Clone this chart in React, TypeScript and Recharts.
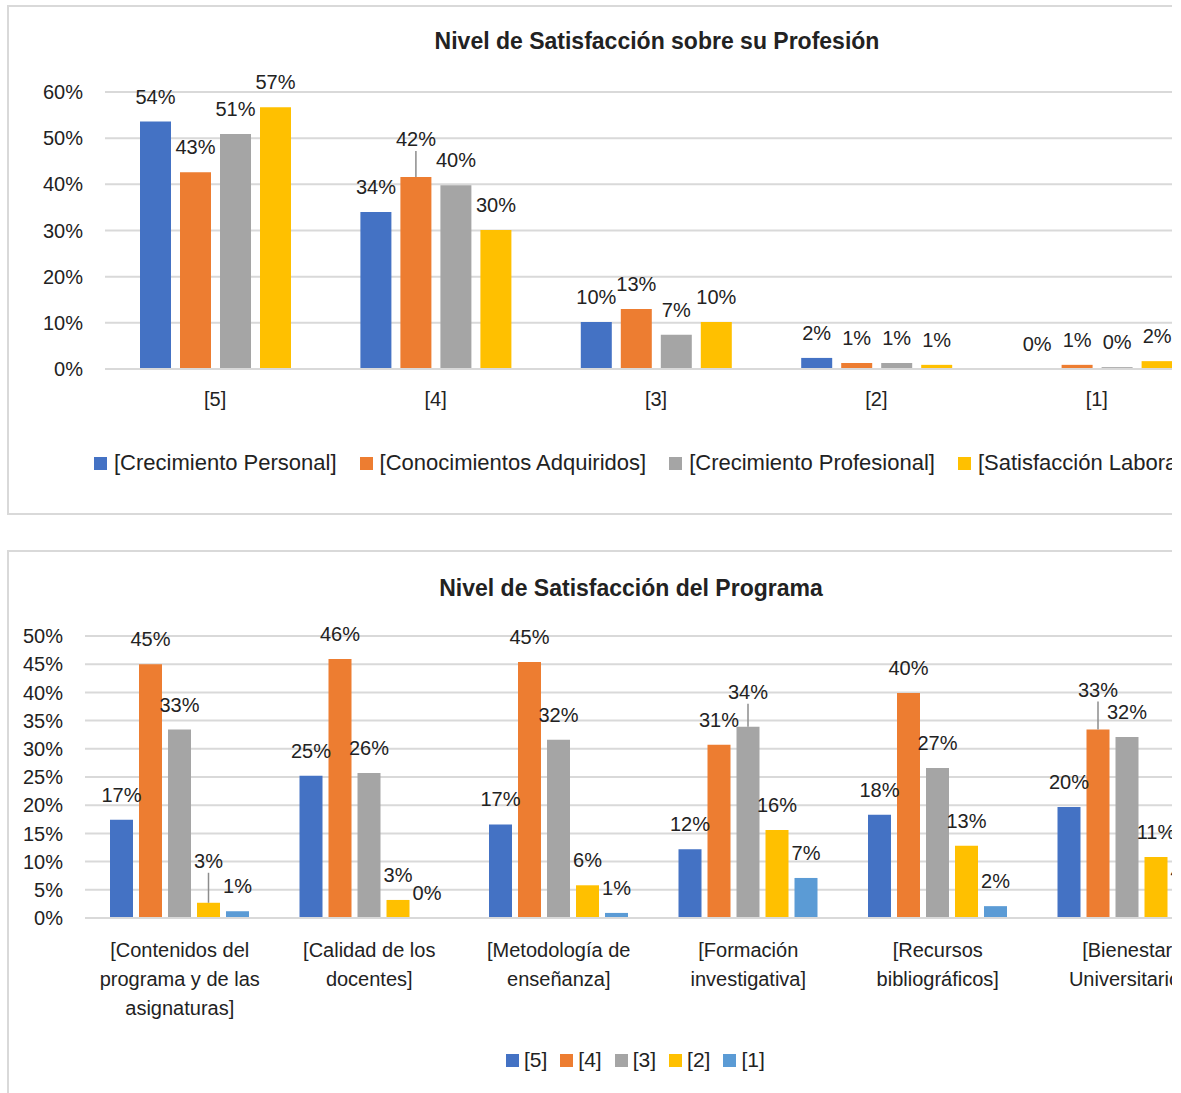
import React from "react"
import {
  BarChart,
  Bar,
  XAxis,
  YAxis,
  CartesianGrid,
  Legend,
  LabelList
} from "recharts"

// ---- chart 1: Nivel de Satisfacción sobre su Profesión ----
const PROF_CATEGORIES = ["[5]", "[4]", "[3]", "[2]", "[1]"]
const CRECIMIENTO_PERSONAL = [53.6, 34.0, 10.2, 2.4, 0]
const CONOCIMIENTOS_ADQUIRIDOS = [42.6, 41.6, 13.0, 1.3, 0.9]
const CRECIMIENTO_PROFESIONAL = [50.9, 39.8, 7.4, 1.3, 0.4]
const SATISFACCION_LABORAL = [56.7, 30.1, 10.2, 0.9, 1.7]
const PROF_TICKS = [0, 10, 20, 30, 40, 50, 60]

// ---- chart 2: Nivel de Satisfacción del Programa ----
const PROG_CATEGORIES = [
  "[Contenidos del\nprograma y de las\nasignaturas]",
  "[Calidad de los\ndocentes]",
  "[Metodología de\nenseñanza]",
  "[Formación\ninvestigativa]",
  "[Recursos\nbibliográficos]",
  "[Bienestar\nUniversitario]"
]
const NIVEL_5 = [17.4, 25.2, 16.6, 12.2, 18.3, 19.7]
const NIVEL_4 = [45.0, 45.9, 45.4, 30.7, 39.9, 33.4]
const NIVEL_3 = [33.4, 25.7, 31.6, 33.9, 26.6, 32.1]
const NIVEL_2 = [2.7, 3.2, 5.8, 15.6, 12.8, 10.8]
const NIVEL_1 = [1.2, 0, 0.9, 7.1, 2.1, 3.9]
const PROG_TICKS = [0, 5, 10, 15, 20, 25, 30, 35, 40, 45, 50]

const FONT = "'Liberation Sans Narrow', 'Arial Narrow', 'Liberation Sans', Arial, sans-serif"
const TEXT = "#222"
const GRID = "#d9d9d9"

const PROF_KEYS = ["personal", "conocimientos", "profesional", "laboral"]
const PROG_KEYS = ["n5", "n4", "n3", "n2", "n1"]

const profData = PROF_CATEGORIES.map((name, i) => ({
  name,
  personal: CRECIMIENTO_PERSONAL[i],
  conocimientos: CONOCIMIENTOS_ADQUIRIDOS[i],
  profesional: CRECIMIENTO_PROFESIONAL[i],
  laboral: SATISFACCION_LABORAL[i]
}))

const progData = PROG_CATEGORIES.map((name, i) => ({
  name,
  n5: NIVEL_5[i],
  n4: NIVEL_4[i],
  n3: NIVEL_3[i],
  n2: NIVEL_2[i],
  n1: NIVEL_1[i]
}))

// labels that Excel pushed up and joined with a leader line
const LEADERS: Record<string, number> = {
  "conocimientos-1": 13,
  "n2-0": 17,
  "n3-3": 10,
  "n4-5": 15
}

const barLabel = (key: string) => (props: any) => {
  const { x, y, width, value, index } = props
  const extra = LEADERS[`${key}-${index}`] ?? 0
  const cx = Number(x) + Number(width) / 2
  const base = Number(y) - 18 - extra
  return (
    <g>
      <text x={cx} y={base} textAnchor="middle" fill={TEXT} fontSize={20} fontFamily={FONT}>
        {Math.round(Number(value))}%
      </text>
      {extra > 0 && (
        <line x1={cx} x2={cx} y1={base + 5} y2={Number(y)} stroke="#8c8c8c" strokeWidth={1.5} />
      )}
    </g>
  )
}

const CategoryTick = (props: any) => {
  const { x, y, payload } = props
  const lines = String(payload.value).split("\n")
  return (
    <text x={x} y={y} textAnchor="middle" fill={TEXT} fontSize={20} fontFamily={FONT}>
      {lines.map((l, i) => (
        <tspan key={i} x={x} dy={i === 0 ? "0.71em" : 29}>
          {l}
        </tspan>
      ))}
    </text>
  )
}

const legendContent = (order: string[], marker: number, textGap: number, itemGap: number, fontSize: number) =>
  (props: any) => {
    const items = [...(props.payload || [])].sort(
      (a: any, b: any) => order.indexOf(String(a.dataKey)) - order.indexOf(String(b.dataKey))
    )
    return (
      <div style={{ display: "flex", alignItems: "center", whiteSpace: "nowrap", fontFamily: FONT, fontSize, color: TEXT }}>
        {items.map((e: any, i: number) => (
          <span key={i} style={{ display: "inline-flex", alignItems: "center", marginRight: itemGap }}>
            <span style={{ width: marker, height: marker, background: e.color, marginRight: textGap, display: "inline-block" }} />
            <span>{e.value}</span>
          </span>
        ))}
      </div>
    )
  }

const frame: React.CSSProperties = {
  position: "absolute",
  left: 7,
  width: 1165,
  boxSizing: "border-box",
  borderTop: `2px solid ${GRID}`,
  borderLeft: `2px solid ${GRID}`,
  overflow: "hidden",
  background: "#fff"
}

const titleStyle: React.CSSProperties = {
  position: "absolute",
  left: 0,
  textAlign: "center",
  fontFamily: FONT,
  fontWeight: "bold",
  fontSize: 23,
  color: TEXT,
  zIndex: 2
}

function ProfesionChart() {
  return (
    <div style={{ ...frame, top: 5, height: 510, borderBottom: `2px solid ${GRID}` }}>
      <div style={{ ...titleStyle, top: 21, width: 1296 }}>
        Nivel de Satisfacción sobre su Profesión
      </div>
      <BarChart
        width={1198}
        height={506}
        data={profData}
        margin={{ top: 85, right: 0, left: 0, bottom: 104 }}
        barSize={31}
        barGap={9}
      >
        <CartesianGrid vertical={false} stroke={GRID} strokeWidth={2} />
        <XAxis
          dataKey="name"
          height={40}
          tickLine={false}
          tickSize={0}
          tickMargin={23}
          axisLine={{ stroke: GRID, strokeWidth: 2 }}
          tick={<CategoryTick />}
          interval={0}
        />
        <YAxis
          width={96}
          domain={[0, 60]}
          ticks={PROF_TICKS}
          tickFormatter={(v) => `${v}%`}
          axisLine={false}
          tickLine={false}
          tickSize={0}
          tickMargin={22}
          tick={{ fill: TEXT, fontSize: 20, fontFamily: FONT }}
        />
        <Legend
          layout="horizontal"
          verticalAlign="middle"
          wrapperStyle={{ left: 85, top: 443, width: "auto" }}
          content={legendContent(PROF_KEYS, 13, 7, 23, 22)}
        />
        <Bar dataKey="personal" name="[Crecimiento Personal]" fill="#4472C4" minPointSize={0.01} isAnimationActive={false}>
          <LabelList dataKey="personal" content={barLabel("personal")} />
        </Bar>
        <Bar dataKey="conocimientos" name="[Conocimientos Adquiridos]" fill="#ED7D31" minPointSize={0.01} isAnimationActive={false}>
          <LabelList dataKey="conocimientos" content={barLabel("conocimientos")} />
        </Bar>
        <Bar dataKey="profesional" name="[Crecimiento Profesional]" fill="#A5A5A5" minPointSize={0.01} isAnimationActive={false}>
          <LabelList dataKey="profesional" content={barLabel("profesional")} />
        </Bar>
        <Bar dataKey="laboral" name="[Satisfacción Laboral]" fill="#FFC000" minPointSize={0.01} isAnimationActive={false}>
          <LabelList dataKey="laboral" content={barLabel("laboral")} />
        </Bar>
      </BarChart>
    </div>
  )
}

function ProgramaChart() {
  return (
    <div style={{ ...frame, top: 550, height: 560 }}>
      <div style={{ ...titleStyle, top: 23, width: 1244 }}>
        Nivel de Satisfacción del Programa
      </div>
      <BarChart
        width={1213}
        height={556}
        data={progData}
        margin={{ top: 84, right: 0, left: 0, bottom: 110 }}
        barSize={23}
        barGap={6}
      >
        <CartesianGrid vertical={false} stroke={GRID} strokeWidth={2} />
        <XAxis
          dataKey="name"
          height={80}
          tickLine={false}
          tickSize={0}
          tickMargin={25}
          axisLine={{ stroke: GRID, strokeWidth: 2 }}
          tick={<CategoryTick />}
          interval={0}
        />
        <YAxis
          width={76}
          domain={[0, 50]}
          ticks={PROG_TICKS}
          tickFormatter={(v) => `${v}%`}
          axisLine={false}
          tickLine={false}
          tickSize={0}
          tickMargin={22}
          tick={{ fill: TEXT, fontSize: 20, fontFamily: FONT }}
        />
        <Legend
          layout="horizontal"
          verticalAlign="middle"
          wrapperStyle={{ left: 497, top: 496, width: "auto" }}
          content={legendContent(PROG_KEYS, 13, 5, 13, 21)}
        />
        <Bar dataKey="n5" name="[5]" fill="#4472C4" minPointSize={0.01} isAnimationActive={false}>
          <LabelList dataKey="n5" content={barLabel("n5")} />
        </Bar>
        <Bar dataKey="n4" name="[4]" fill="#ED7D31" minPointSize={0.01} isAnimationActive={false}>
          <LabelList dataKey="n4" content={barLabel("n4")} />
        </Bar>
        <Bar dataKey="n3" name="[3]" fill="#A5A5A5" minPointSize={0.01} isAnimationActive={false}>
          <LabelList dataKey="n3" content={barLabel("n3")} />
        </Bar>
        <Bar dataKey="n2" name="[2]" fill="#FFC000" minPointSize={0.01} isAnimationActive={false}>
          <LabelList dataKey="n2" content={barLabel("n2")} />
        </Bar>
        <Bar dataKey="n1" name="[1]" fill="#5B9BD5" minPointSize={0.01} isAnimationActive={false}>
          <LabelList dataKey="n1" content={barLabel("n1")} />
        </Bar>
      </BarChart>
    </div>
  )
}

export default function App() {
  return (
    <div style={{ position: "absolute", left: 0, top: 0, width: 1181, height: 1093, overflow: "hidden", background: "#fff" }}>
      <ProfesionChart />
      <ProgramaChart />
    </div>
  )
}
